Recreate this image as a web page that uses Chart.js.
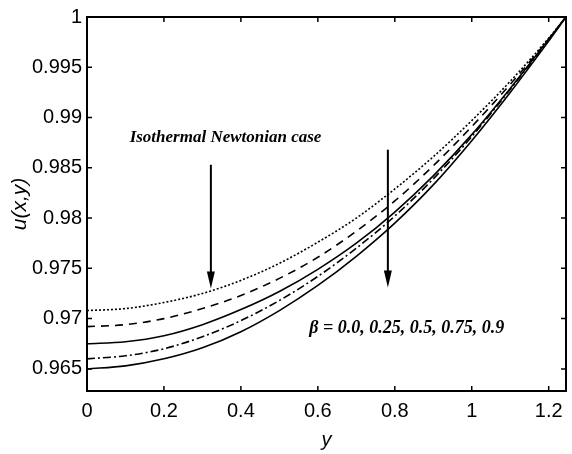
<!DOCTYPE html>
<html>
<head>
<meta charset="utf-8">
<script src="https://cdn.jsdelivr.net/npm/chart.js@4.4.1/dist/chart.umd.min.js"></script>
<style>
  body { margin: 0; background: #fff; }
  #wrap { width: 572px; height: 454px; }
</style>
</head>
<body>
<div id="wrap"><canvas id="velChart"></canvas></div>
<script>
// y positions where the velocity profiles were sampled
const yPos = [0, 0.1, 0.2, 0.3, 0.4, 0.5, 0.6, 0.7, 0.8, 0.9, 1.0, 1.1, 1.2, 1.245];

// u(x,y) for beta = 0.0, 0.25, 0.5, 0.75, 0.9
const uBeta00 = [0.9708, 0.9710, 0.9716, 0.9725, 0.9738, 0.9755, 0.9776, 0.9800, 0.9829, 0.9861, 0.9897, 0.9936, 0.9979, 1.0];
const uBeta025 = [0.9692, 0.9694, 0.9700, 0.9710, 0.9723, 0.9740, 0.9761, 0.9787, 0.9817, 0.9852, 0.9891, 0.9933, 0.9978, 1.0];
const uBeta05 = [0.9675, 0.9677, 0.9683, 0.9694, 0.9709, 0.9727, 0.9749, 0.9775, 0.9806, 0.9842, 0.9883, 0.9929, 0.9978, 1.0];
const uBeta075 = [0.9660, 0.9663, 0.9670, 0.9682, 0.9698, 0.9718, 0.9742, 0.9770, 0.9802, 0.9839, 0.9881, 0.9928, 0.9977, 1.0];
const uBeta09 = [0.9650, 0.9653, 0.9660, 0.9671, 0.9687, 0.9708, 0.9733, 0.9762, 0.9795, 0.9833, 0.9877, 0.9925, 0.9976, 1.0];

const xTicks = [0, 0.2, 0.4, 0.6, 0.8, 1, 1.2];
const yTicks = [0.965, 0.97, 0.975, 0.98, 0.985, 0.99, 0.995, 1];

// arrows: x position, start and end value
const arrowX = [0.322, 0.782];
const arrowFrom = [0.9853, 0.9868];
const arrowTo = [0.9730, 0.9731];

const black = '#000';
const tickFont = { family: '"Liberation Sans", Arial, sans-serif', size: 20 };
const noteFont = 'italic bold 17px "Liberation Serif", "Times New Roman", serif';
const betaFont = 'italic bold 18px "Liberation Serif", "Times New Roman", serif';

function profile(vals) {
    return vals.map((v, i) => ({ x: yPos[i], y: v }));
}

const curves = [
    { data: uBeta00, dash: [2, 2] },
    { data: uBeta025, dash: [8, 6] },
    { data: uBeta05, dash: [] },
    { data: uBeta075, dash: [8, 3, 2, 3] },
    { data: uBeta09, dash: [] }
];

// frame, inward ticks, arrows and notes
const decorations = {
    id: 'decorations',
    afterDatasetsDraw(chart) {
        const { ctx, chartArea: a, scales: { x, y } } = chart;
        ctx.save();
        ctx.strokeStyle = black;
        ctx.fillStyle = black;
        ctx.lineWidth = 2;
        ctx.strokeRect(a.left, a.top, a.right - a.left, a.bottom - a.top);

        ctx.lineWidth = 1.5;
        ctx.beginPath();
        xTicks.forEach(v => {
            const px = x.getPixelForValue(v);
            ctx.moveTo(px, a.bottom); ctx.lineTo(px, a.bottom - 5);
            ctx.moveTo(px, a.top); ctx.lineTo(px, a.top + 5);
        });
        yTicks.forEach(v => {
            const py = y.getPixelForValue(v);
            ctx.moveTo(a.left, py); ctx.lineTo(a.left + 5, py);
            ctx.moveTo(a.right, py); ctx.lineTo(a.right - 5, py);
        });
        ctx.stroke();

        arrowX.forEach((xv, i) => {
            const px = x.getPixelForValue(xv);
            const y0 = y.getPixelForValue(arrowFrom[i]);
            const y1 = y.getPixelForValue(arrowTo[i]);
            ctx.lineWidth = 2;
            ctx.beginPath();
            ctx.moveTo(px, y0);
            ctx.lineTo(px, y1 - 12);
            ctx.stroke();
            ctx.beginPath();
            ctx.moveTo(px - 4, y1 - 17);
            ctx.lineTo(px + 4, y1 - 17);
            ctx.lineTo(px, y1);
            ctx.closePath();
            ctx.fill();
        });

        ctx.textAlign = 'center';
        ctx.textBaseline = 'middle';
        ctx.font = noteFont;
        ctx.fillText('Isothermal Newtonian case', x.getPixelForValue(0.36), y.getPixelForValue(0.9880));
        ctx.font = betaFont;
        ctx.fillText('\u03b2 = 0.0, 0.25, 0.5, 0.75, 0.9', x.getPixelForValue(0.831), y.getPixelForValue(0.9690));
        ctx.restore();
    }
};

var ctx = document.getElementById('velChart').getContext('2d');
var velChart = new Chart(ctx, {
    type: 'line',
    data: {
        datasets: curves.map(c => ({
            data: profile(c.data),
            borderColor: black,
            borderWidth: 1.6,
            borderDash: c.dash,
            pointRadius: 0,
            cubicInterpolationMode: 'monotone',
            fill: false
        }))
    },
    options: {
        responsive: true,
        maintainAspectRatio: false,
        animation: false,
        layout: { padding: { left: 0, right: 6, top: 13, bottom: 0 } },
        plugins: {
            legend: { display: false },
            tooltip: { enabled: false }
        },
        scales: {
            x: {
                type: 'linear',
                min: 0,
                max: 1.245,
                afterBuildTicks: scale => { scale.ticks = xTicks.map(value => ({ value })); },
                afterFit: scale => { scale.height = 63; },
                grid: { display: false, drawTicks: false },
                border: { display: false },
                ticks: {
                    color: black,
                    font: tickFont,
                    padding: 8,
                    maxRotation: 0,
                    callback: v => String(+v.toFixed(1))
                },
                title: {
                    display: true,
                    text: 'y',
                    color: black,
                    font: { family: '"Liberation Sans", Arial, sans-serif', size: 20, style: 'italic' },
                    padding: { top: 0, bottom: 2 }
                }
            },
            y: {
                min: 0.9628,
                max: 1,
                afterBuildTicks: scale => { scale.ticks = yTicks.map(value => ({ value })); },
                afterFit: scale => { scale.width = 87; },
                grid: { display: false, drawTicks: false },
                border: { display: false },
                ticks: {
                    color: black,
                    font: tickFont,
                    padding: 5,
                    callback: v => String(+v.toFixed(3))
                },
                title: {
                    display: true,
                    text: 'u(x,y)',
                    color: black,
                    font: { family: '"Liberation Sans", Arial, sans-serif', size: 21, style: 'italic' },
                    padding: { top: 8, bottom: 0 }
                }
            }
        }
    },
    plugins: [decorations]
});
</script>
</body>
</html>
